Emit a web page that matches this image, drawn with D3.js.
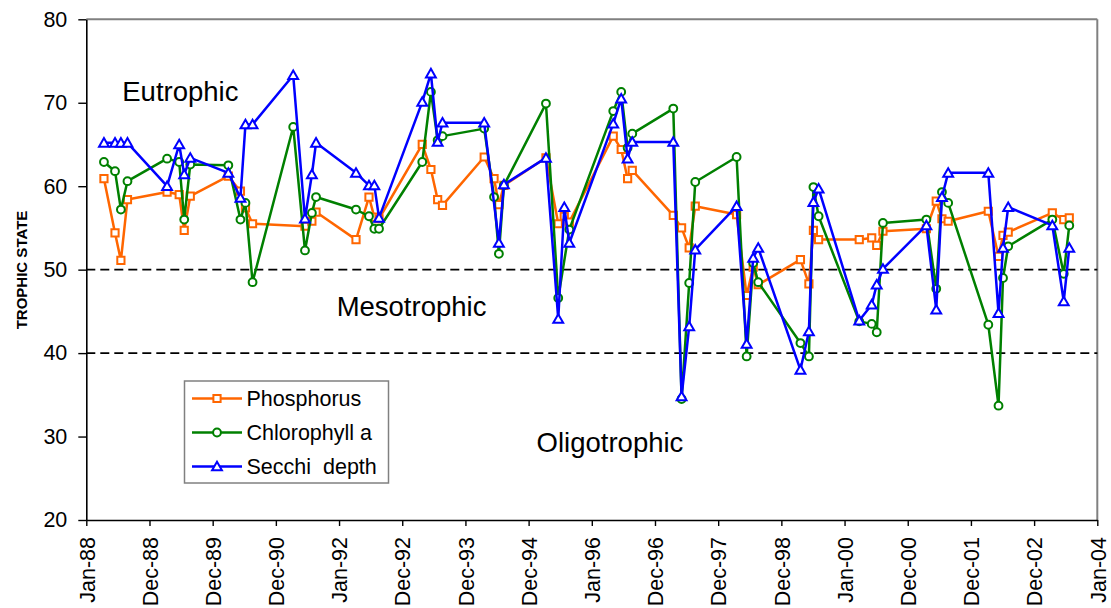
<!DOCTYPE html>
<html>
<head>
<meta charset="utf-8">
<script src="https://cdn.jsdelivr.net/npm/d3@7"></script>
<style>
  body { margin: 0; background: #fff; }
  svg { display: block; font-family: Arial, "Liberation Sans", sans-serif; }
</style>
</head>
<body>
<div id="chart"></div>
<script>
// sample dates
const dates = [
  "1988-04-12","1988-06-15","1988-07-19","1988-08-26",
  "1989-04-12","1989-06-21","1989-07-20","1989-08-24",
  "1990-04-01","1990-06-10","1990-07-09","1990-08-19",
  "1991-04-11","1991-06-18","1991-07-28","1991-08-21",
  "1992-04-08","1992-06-22","1992-07-23","1992-08-19",
  "1993-04-26","1993-06-15","1993-07-24","1993-08-21",
  "1994-04-19","1994-06-15","1994-07-13","1994-08-11",
  "1995-04-11","1995-06-21","1995-07-26","1995-08-24",
  "1996-05-04","1996-06-19","1996-07-26","1996-08-22",
  "1997-04-16","1997-06-03","1997-07-17","1997-08-21",
  "1998-04-17","1998-06-14","1998-07-22","1998-08-20",
  "1999-04-21","1999-06-09","1999-07-05","1999-08-04",
  "2000-03-26","2000-06-06","2000-07-05","2000-08-10",
  "2001-04-18","2001-06-14","2001-07-17","2001-08-22",
  "2002-04-11","2002-06-09","2002-07-05","2002-08-04",
  "2003-04-16","2003-06-21","2003-07-23"
];

const phosphorus = [
  60.9, 54.4, 51.1, 58.4,
  59.3, 59.0, 54.7, 58.8,
  61.2, 59.4, 57.4, 55.5,
  null, 55.2, 55.8, 56.9,
  53.6, 58.7, 56.3, 56.1,
  65.0, 62.0, 58.4, 57.7,
  63.5, 60.9, 57.8, 60.1,
  63.4, 55.5, 56.4, 55.7,
  66.0, 64.4, 60.9, 61.9,
  56.5, 55.0, 52.6, 57.6,
  56.6, 46.9, 50.3, 48.2,
  51.2, 48.3, 54.7, 53.6,
  53.6, 53.8, 52.9, 54.6,
  54.9, 58.2, 56.1, 55.8,
  57.0, 51.6, 54.1, 54.5,
  56.8, 56.0, 56.2
];

const chlorophyll = [
  62.9, 61.8, 57.2, 60.6,
  63.3, 62.9, 56.0, 62.6,
  62.5, 56.0, 58.0, 48.5,
  67.1, 52.3, 56.8, 58.7,
  57.2, 56.4, 54.9, 54.9,
  62.9, 71.3, 65.5, 66.0,
  66.9, 58.7, 51.9, 60.1,
  69.9, 46.6, null, 54.8,
  69.0, 71.3, 64.6, 66.3,
  69.3, 34.5, 48.4, 60.5,
  63.5, 39.6, 50.8, 48.5,
  41.2, 39.6, 59.9, 56.4,
  43.8, 43.5, 42.5, 55.6,
  56.0, 47.7, 59.3, 58.0,
  43.4, 33.7, 49.0, 52.8,
  56.0, 49.5, 55.3
];

const secchi = [
  65.2, 65.2, 65.2, 65.2,
  60.0, 65.0, 61.4, 63.4,
  61.6, 58.6, 67.4, 67.4,
  73.3, 56.1, 61.4, 65.2,
  61.6, 60.1, 60.1, 56.2,
  70.1, 73.5, 65.3, 67.6,
  67.6, null, 53.2, 60.2,
  63.4, 44.1, 57.5, 53.2,
  67.5, 70.5, 63.3, 65.3,
  65.3, 34.8, 43.2, 52.4,
  57.6, 41.1, 51.4, 52.6,
  38.0, 42.6, 58.1, 59.7,
  43.9, 45.8, 48.2, 50.1,
  55.3, 45.2, 58.7, 61.6,
  61.6, 44.8, 52.6, 57.5,
  55.3, 46.2, 52.6
];

const yTicks = [20, 30, 40, 50, 60, 70, 80];
const thresholds = [50, 40];
const zones = [
  { text: "Eutrophic", date: "1988-07-27", value: 70.2 },
  { text: "Mesotrophic", date: "1991-12-18", value: 44.45 },
  { text: "Oligotrophic", date: "1995-02-16", value: 28.2 }
];

const width = 1111;
const height = 608;
const plotLeft = 86.3, plotRight = 1097.3, plotTop = 19.3, plotBottom = 520;

const svg = d3.select("#chart").append("svg")
    .attr("width", width)
    .attr("height", height);

const parse = d3.utcParse("%Y-%m-%d");
const start = Date.UTC(1988, 0, 1);

const x = d3.scaleUtc()
    .domain([new Date(start), new Date(Date.UTC(2004, 0, 1))])
    .range([plotLeft, plotRight]);

const y = d3.scaleLinear()
    .domain([20, 80])
    .range([plotBottom, plotTop]);

// excel style date axis: a tick every 365.25 days
const xTicks = d3.range(17).map(k => new Date(start + k * 365.25 * 864e5));

// plot frame (grey top/right)
svg.append("line")
    .attr("x1", plotLeft).attr("x2", plotRight)
    .attr("y1", plotTop).attr("y2", plotTop)
    .attr("stroke", "#808080").attr("stroke-width", 2);
svg.append("line")
    .attr("x1", plotRight).attr("x2", plotRight)
    .attr("y1", plotTop).attr("y2", plotBottom)
    .attr("stroke", "#808080").attr("stroke-width", 2);

// threshold lines
thresholds.forEach(t => {
    svg.append("line")
        .attr("x1", plotLeft).attr("x2", plotRight)
        .attr("y1", y(t)).attr("y2", y(t))
        .attr("stroke", "black")
        .attr("stroke-width", 1.8)
        .attr("stroke-dasharray", "9,5");
});

// axes
const yAxis = svg.append("g")
    .attr("transform", `translate(${plotLeft},0)`)
    .call(d3.axisLeft(y).tickValues(yTicks).tickSize(8).tickPadding(11).tickSizeOuter(0));
yAxis.select(".domain").attr("stroke-width", 1.6);
yAxis.selectAll(".tick line").attr("stroke-width", 1.4);
yAxis.selectAll("text")
    .attr("font-size", "21.5px")
    .attr("font-family", "Arial, 'Liberation Sans', sans-serif")
    .attr("fill", "black");

const xAxis = svg.append("g")
    .attr("transform", `translate(0,${plotBottom})`)
    .call(d3.axisBottom(x).tickValues(xTicks).tickFormat(d3.utcFormat("%b-%y")).tickSize(6).tickSizeOuter(0));
xAxis.select(".domain").attr("stroke-width", 1.6);
xAxis.selectAll(".tick line").attr("stroke-width", 1.4);
xAxis.selectAll("text")
    .attr("font-size", "21.5px")
    .attr("font-family", "Arial, 'Liberation Sans', sans-serif")
    .attr("fill", "black")
    .attr("transform", "rotate(-90)")
    .attr("text-anchor", "end")
    .attr("x", -17)
    .attr("y", 0)
    .attr("dy", "0.36em");

svg.append("text")
    .attr("transform", "translate(27,270) rotate(-90)")
    .attr("text-anchor", "middle")
    .attr("font-size", "15px")
    .attr("font-weight", "bold")
    .text("TROPHIC STATE");

// zone labels
zones.forEach(z => {
    svg.append("text")
        .attr("x", x(parse(z.date)))
        .attr("y", y(z.value))
        .attr("font-size", "27.5px")
        .attr("fill", "black")
        .text(z.text);
});

const markerShapes = {
    square: d3.symbol().type(d3.symbolSquare).size(52),
    circle: d3.symbol().type(d3.symbolCircle).size(48),
    triangle: d3.symbol().type(d3.symbolTriangle).size(42)
};

const series = [
    { name: "Phosphorus", values: phosphorus, color: "#FF6600", shape: "square" },
    { name: "Chlorophyll a", values: chlorophyll, color: "#008000", shape: "circle" },
    { name: "Secchi  depth", values: secchi, color: "#0000FF", shape: "triangle" }
];

const line = d3.line()
    .x(d => x(d.date))
    .y(d => y(d.value));

function drawMarker(g, shape, color, cx, cy) {
    const dy = shape === "triangle" ? 1 : 0;
    g.append("path")
        .attr("d", markerShapes[shape]())
        .attr("transform", `translate(${cx},${cy + dy})`)
        .attr("fill", "white")
        .attr("stroke", color)
        .attr("stroke-width", 2);
}

series.forEach(s => {
    const pts = dates.map((d, i) => ({ date: parse(d), value: s.values[i] }))
        .filter(p => p.value !== null);

    const g = svg.append("g");
    g.append("path")
        .datum(pts)
        .attr("d", line)
        .attr("fill", "none")
        .attr("stroke", s.color)
        .attr("stroke-width", 2.5)
        .attr("stroke-linejoin", "round");

    pts.forEach(p => drawMarker(g, s.shape, s.color, x(p.date), y(p.value)));
});

// legend
const legend = svg.append("g");
legend.append("rect")
    .attr("x", 184.5).attr("y", 381)
    .attr("width", 204).attr("height", 102)
    .attr("fill", "white")
    .attr("stroke", "#808080")
    .attr("stroke-width", 1.5);

series.forEach((s, i) => {
    const ly = 398.5 + i * 34;
    legend.append("line")
        .attr("x1", 192).attr("x2", 242)
        .attr("y1", ly).attr("y2", ly)
        .attr("stroke", s.color)
        .attr("stroke-width", 2.5);
    drawMarker(legend, s.shape, s.color, 217, ly);
    legend.append("text")
        .attr("x", 246.5)
        .attr("y", ly)
        .attr("dy", "0.36em")
        .attr("font-size", "21.5px")
        .attr("fill", "black")
        .style("white-space", "pre")
        .text(s.name);
});
</script>
</body>
</html>
